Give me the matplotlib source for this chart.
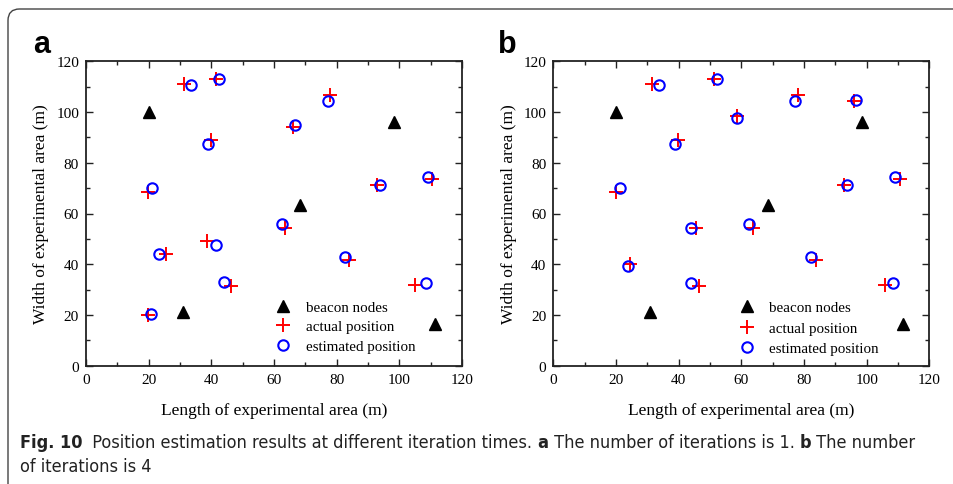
import matplotlib
matplotlib.use("Agg")
import matplotlib.pyplot as plt
from matplotlib.patches import FancyBboxPatch
from matplotlib.ticker import MultipleLocator

# ---------------- data ----------------
beacon_x = [20.0, 98.4, 68.4, 30.8, 111.5]
beacon_y = [100.0, 96.2, 63.4, 21.0, 16.6]

a_actual_x = [31.4, 41.5, 66.2, 78.0, 39.8, 19.8, 92.9, 110.5, 63.6, 38.6, 25.5, 83.8, 46.3, 105.1, 19.8]
a_actual_y = [111.2, 113.0, 94.0, 106.6, 89.0, 68.3, 71.4, 73.6, 54.1, 49.0, 44.2, 41.7, 31.4, 31.9, 20.0]
a_est_x = [33.5, 42.5, 66.8, 77.2, 39.0, 21.2, 93.7, 109.2, 62.6, 41.4, 23.2, 82.6, 43.9, 108.5, 20.9]
a_est_y = [110.6, 113.0, 94.7, 104.3, 87.4, 69.9, 71.1, 74.2, 55.8, 47.6, 44.2, 42.7, 33.0, 32.5, 20.2]

b_actual_x = [31.4, 51.3, 58.7, 78.0, 96.0, 39.9, 19.9, 92.8, 110.5, 45.5, 63.7, 24.4, 83.7, 46.4, 105.9]
b_actual_y = [111.2, 113.0, 98.3, 106.6, 104.3, 89.0, 68.3, 71.3, 73.6, 54.1, 54.1, 40.1, 41.7, 31.4, 31.9]
b_est_x = [33.6, 52.3, 58.5, 77.1, 96.6, 39.0, 21.4, 93.6, 108.9, 44.1, 62.6, 24.0, 82.4, 43.9, 108.3]
b_est_y = [110.6, 113.0, 97.6, 104.3, 104.7, 87.4, 69.9, 71.1, 74.2, 54.1, 55.8, 39.3, 42.7, 32.7, 32.5]

panel_labels = ["a", "b"]
legend_labels = ["beacon nodes", "actual position", "estimated position"]
xlabel = "Length of experimental area (m)"
ylabel = "Width of experimental area (m)"
caption = [
    [("Fig. 10", "bold"), ("  Position estimation results at different iteration times. ", "normal"),
     ("a", "bold"), (" The number of iterations is 1. ", "normal"), ("b", "bold"), (" The number", "normal")],
    [("of iterations is 4", "normal")],
]

# ---------------- figure ----------------
serif = ["Liberation Serif", "DejaVu Serif"]
plt.rcParams["font.family"] = serif

W, H = 954, 485
fig = plt.figure(figsize=(W / 100, H / 100), dpi=100)

def px(x, y):
    return x / W, 1 - y / H

# frame
box = FancyBboxPatch((8 / W, -40 / H), (W + 40) / W, (H + 30) / H,
                     boxstyle="round,pad=0,rounding_size=0.012",
                     transform=fig.transFigure, fill=False,
                     edgecolor="#444444", linewidth=1.0, mutation_aspect=W / H)
fig.patches.append(box)

axes_px = [(86, 462), (553.3, 929.3)]
top_px, bot_px = 62.3, 366.7
datasets = [(a_actual_x, a_actual_y, a_est_x, a_est_y), (b_actual_x, b_actual_y, b_est_x, b_est_y)]
leg_anchor = [(0.505, 0.215), (0.495, 0.213)]
leg_spacing = [0.40, 0.47]
label_pos = [(42, 45), (507, 45)]

for i, (l, r) in enumerate(axes_px):
    ax = fig.add_axes([l / W, 1 - bot_px / H, (r - l) / W, (bot_px - top_px) / H])
    ax_x, ax_y, es_x, es_y = datasets[i]
    h1, = ax.plot(beacon_x, beacon_y, ls="none", marker="^", color="black", ms=8)
    h2, = ax.plot(ax_x, ax_y, ls="none", marker="+", color="red", ms=10, mew=1.4)
    h3, = ax.plot(es_x, es_y, ls="none", marker="o", mfc="none", mec="blue", ms=7.5, mew=1.5)
    ax.set_xlim(0, 120)
    ax.set_ylim(0, 120)
    ax.xaxis.set_major_locator(MultipleLocator(20))
    ax.xaxis.set_minor_locator(MultipleLocator(10))
    ax.yaxis.set_major_locator(MultipleLocator(20))
    ax.yaxis.set_minor_locator(MultipleLocator(10))
    ax.tick_params(which="both", direction="in", top=True, right=True, width=1.0, color="#222222")
    ax.tick_params(which="major", length=5, labelsize=11, pad=5)
    ax.tick_params(which="minor", length=3)
    for s in ax.spines.values():
        s.set_linewidth(1.3)
        s.set_color("#222222")
    ax.set_xlabel(xlabel, fontsize=12.5, labelpad=12)
    ax.set_ylabel(ylabel, fontsize=12.5, labelpad=5)
    ax.legend([h1, h2, h3], legend_labels, loc="upper left", bbox_to_anchor=leg_anchor[i],
              frameon=False, prop={"size": 10.8}, handlelength=1.0,
              handletextpad=1.0, labelspacing=leg_spacing[i], borderpad=0, borderaxespad=0)
    lx, ly = px(*label_pos[i])
    fig.text(lx, ly, panel_labels[i], fontsize=22, fontweight="bold",
             family=["Liberation Sans", "DejaVu Sans"], ha="center", va="center")

# caption, drawn segment by segment, scaled so that line 1 spans the reference width
fig.canvas.draw()
renderer = fig.canvas.get_renderer()
cap_font = ["DejaVu Sans"]

def draw_line(segs, y, fs, draw=True):
    x = 20
    texts = []
    for txt, wt in segs:
        fx, fy = px(x, y)
        t = fig.text(fx, fy, txt, fontsize=fs, fontweight=wt, family=cap_font,
                     fontstretch="condensed", ha="left", va="center", color="#222222")
        x += t.get_window_extent(renderer).width
        texts.append(t)
    if not draw:
        for t in texts:
            t.remove()
    return x - 20

w0 = draw_line(caption[0], 443, 12, draw=False)
fs = 12 * 920 / w0
fs = min(fs, 13)
line_y = [443, 467]
for li, segs in enumerate(caption):
    draw_line(segs, line_y[li], fs)

fig.savefig("out.png", dpi=100)
